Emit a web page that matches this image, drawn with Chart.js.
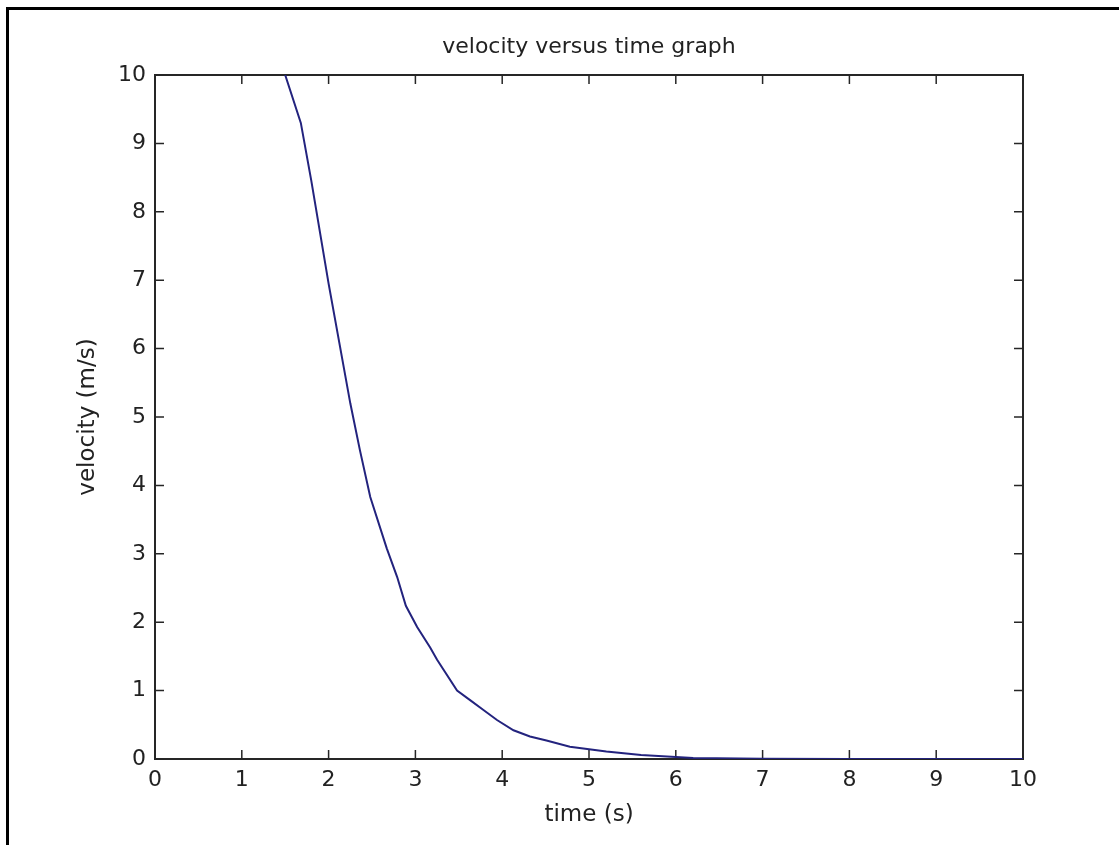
<!DOCTYPE html>
<html>
<head>
<meta charset="utf-8">
<script src="https://cdn.jsdelivr.net/npm/chart.js@4"></script>
<style>
  body { margin: 0; background: #fff; }
  #frame {
    position: absolute; left: 6px; top: 7px; width: 1113px; height: 838px;
    border-left: 3px solid #000; border-top: 3px solid #000;
  }
  #velocityChart { position: absolute; left: 0; top: 0; }
</style>
</head>
<body>
<div id="frame"></div>
<canvas id="velocityChart" width="1119" height="845"></canvas>
<script>
// Values
const timeValues = [1.5, 1.68, 1.8, 2.0, 2.25, 2.36, 2.48, 2.67, 2.79, 2.89, 3.02, 3.17, 3.25, 3.48, 3.63, 3.78, 3.94, 4.13, 4.32, 4.51, 4.78, 5.2, 5.6, 6.2, 7, 8, 9, 10];
const velocityValues = [10, 9.3, 8.46, 6.95, 5.2, 4.52, 3.83, 3.08, 2.66, 2.24, 1.93, 1.63, 1.45, 1.0, 0.86, 0.72, 0.57, 0.42, 0.33, 0.27, 0.18, 0.11, 0.06, 0.015, 0.005, 0, 0, 0];
const axisTicks = [0, 1, 2, 3, 4, 5, 6, 7, 8, 9, 10];

const TICK = 9;
const textColor = '#222';
const fontFamily = "'DejaVu Sans', sans-serif";

// MATLAB style box with ticks pointing inward on all four sides
const innerTicks = {
    id: 'innerTicks',
    beforeDatasetsDraw(chart) {
        const { ctx, chartArea: a, scales: { x, y } } = chart;
        ctx.save();
        ctx.strokeStyle = '#262626';
        ctx.lineWidth = 2;
        ctx.strokeRect(a.left, a.top, a.right - a.left, a.bottom - a.top);
        ctx.lineWidth = 1.5;
        ctx.beginPath();
        x.ticks.forEach(t => {
            const px = x.getPixelForValue(t.value);
            ctx.moveTo(px, a.bottom); ctx.lineTo(px, a.bottom - TICK);
            ctx.moveTo(px, a.top); ctx.lineTo(px, a.top + TICK);
        });
        y.ticks.forEach(t => {
            const py = y.getPixelForValue(t.value);
            ctx.moveTo(a.left, py); ctx.lineTo(a.left + TICK, py);
            ctx.moveTo(a.right, py); ctx.lineTo(a.right - TICK, py);
        });
        ctx.stroke();
        ctx.restore();
    }
};

const ctx = document.getElementById('velocityChart').getContext('2d');
const chart = new Chart(ctx, {
    type: 'line',
    data: {
        datasets: [{
            label: 'velocity',
            data: timeValues.map((t, i) => ({ x: t, y: velocityValues[i] })),
            borderColor: '#23237e',
            borderWidth: 2,
            pointRadius: 0,
            tension: 0,
            fill: false
        }]
    },
    options: {
        responsive: false,
        animation: false,
        layout: { padding: { left: 0, top: 0, right: 96, bottom: 0 } },
        plugins: {
            legend: { display: false },
            tooltip: { enabled: false },
            title: {
                display: true,
                text: 'velocity versus time graph',
                fullSize: false,
                color: textColor,
                font: { family: fontFamily, size: 22, weight: 'normal' },
                padding: { top: 34, bottom: 14.6 }
            }
        },
        scales: {
            x: {
                type: 'linear',
                min: 0, max: 10,
                afterBuildTicks: s => { s.ticks = axisTicks.map(v => ({ value: v })); },
                afterFit: s => { s.height = 86; },
                grid: { display: false, drawTicks: false },
                border: { display: false },
                ticks: { color: textColor, padding: 8, font: { family: fontFamily, size: 22 } },
                title: {
                    display: true, text: 'time (s)', color: textColor,
                    font: { family: fontFamily, size: 23 },
                    padding: { top: 0, bottom: 16 }
                }
            },
            y: {
                type: 'linear',
                min: 0, max: 10,
                afterBuildTicks: s => { s.ticks = axisTicks.map(v => ({ value: v })); },
                afterFit: s => { s.width = 155; },
                grid: { display: false, drawTicks: false },
                border: { display: false },
                ticks: { color: textColor, padding: 9, font: { family: fontFamily, size: 22 } },
                title: {
                    display: true, text: 'velocity (m/s)', color: textColor,
                    font: { family: fontFamily, size: 23 },
                    padding: { top: 74, bottom: 0 }
                }
            }
        }
    },
    plugins: [innerTicks]
});
</script>
</body>
</html>
